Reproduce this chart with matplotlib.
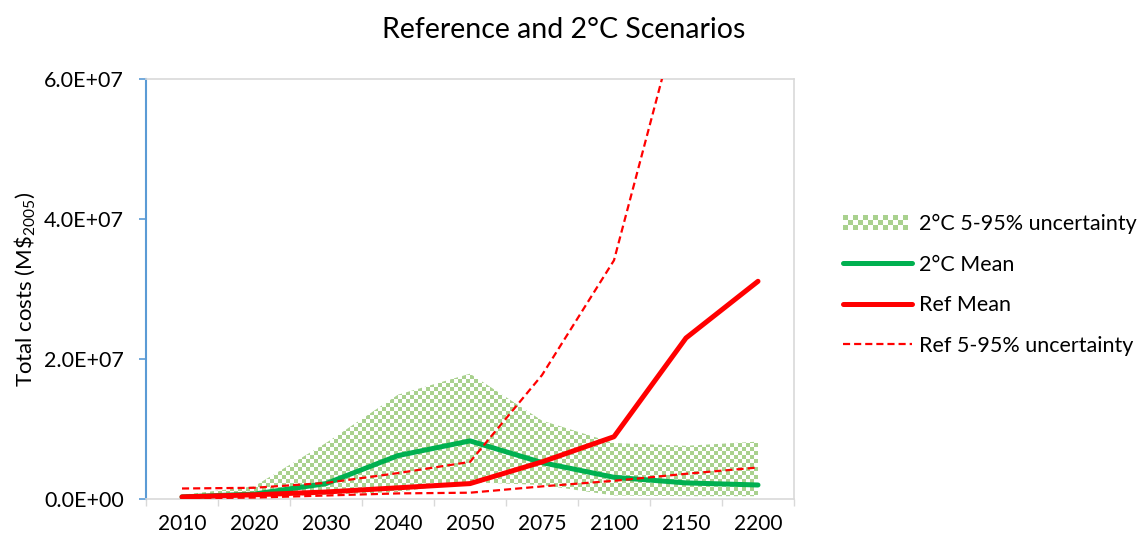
"""Total costs under the reference and 2°C scenarios, with 5-95% uncertainty ranges."""
import matplotlib

matplotlib.use("Agg")
import matplotlib.pyplot as plt
import numpy as np
from matplotlib.legend_handler import HandlerBase
from matplotlib.lines import Line2D
from matplotlib.patches import Patch, Rectangle

plt.rcParams["font.family"] = ["Lato", "DejaVu Sans"]
plt.rcParams["mathtext.default"] = "regular"

years = ["2010", "2020", "2030", "2040", "2050", "2075", "2100", "2150", "2200"]

ref_mean = [0.3e6, 0.6e6, 1.0e6, 1.6e6, 2.2e6, 5.3e6, 8.9e6, 2.3e7, 3.11e7]
ref_low = [0.1e6, 0.2e6, 0.5e6, 0.8e6, 0.9e6, 1.8e6, 2.6e6, 3.6e6, 4.5e6]
ref_high = [1.5e6, 1.6e6, 2.3e6, 3.7e6, 5.3e6, 1.77e7, 3.41e7, 7.3e7, 1.3e8]

two_mean = [0.3e6, 0.7e6, 2.2e6, 6.2e6, 8.3e6, 5.2e6, 3.1e6, 2.3e6, 2.0e6]
two_low = [0.1e6, 0.3e6, 0.6e6, 1.0e6, 2.4e6, 2.0e6, 0.5e6, 0.4e6, 0.4e6]
two_high = [0.6e6, 1.8e6, 8.0e6, 1.49e7, 1.79e7, 1.12e7, 8.0e6, 7.6e6, 8.2e6]

GREEN = "#00B050"
RED = "#FF0000"
CHECK = "#A9D18E"
GRID_GREY = "#D9D9D9"
AXIS_BLUE = "#5B9BD5"


class CheckerHandler(HandlerBase):
    """Legend key drawn as a small green/white checkerboard."""

    def create_artists(self, legend, orig_handle, xdescent, ydescent, width, height, fontsize, trans):
        ny = 3
        cell = height / ny
        nx = int(width // cell)
        artists = []
        for i in range(nx):
            for j in range(ny):
                if (i + j) % 2 == 0:
                    artists.append(Rectangle((-xdescent + i * cell, -ydescent + j * cell), cell, cell,
                                             facecolor=CHECK, edgecolor="none", transform=trans))
        return artists


fig = plt.figure(figsize=(11.45, 5.38), dpi=100)
ax = fig.add_axes([146 / 1145, 1 - 499 / 538, 648 / 1145, 420 / 538])

x = np.arange(len(years))
ymax = 6e7

# uncertainty band for the 2°C case: checkerboard image clipped to the fill region
band = ax.fill_between(x, two_low, two_high, facecolor="none", edgecolor="none", zorder=1)
nx_cells, ny_cells = 162, 105
checker = (np.add.outer(np.arange(ny_cells), np.arange(nx_cells)) % 2).astype(float)
cmap = matplotlib.colors.ListedColormap(["white", CHECK])
im = ax.imshow(checker, cmap=cmap, extent=[-0.5, len(years) - 0.5, 0, ymax], aspect="auto",
               interpolation="nearest", origin="lower", zorder=1)
im.set_clip_path(band.get_paths()[0], ax.transData)

ax.plot(x, two_mean, color=GREEN, lw=3.6, solid_capstyle="round", solid_joinstyle="round", zorder=3)
ax.plot(x, ref_mean, color=RED, lw=3.6, solid_capstyle="round", solid_joinstyle="round", zorder=4)
ax.plot(x, ref_low, color=RED, lw=1.6, dashes=(3.2, 1.8), zorder=5)
ax.plot(x, ref_high, color=RED, lw=1.6, dashes=(3.2, 1.8), zorder=5)

ax.set_xlim(-0.5, len(years) - 0.5)
ax.set_ylim(0, ymax)

ax.set_xticks(x, years)
ax.set_xticks(np.arange(len(years) + 1) - 0.5, minor=True)
ax.tick_params(axis="x", which="major", length=0, pad=11, labelsize=15)
ax.tick_params(axis="x", which="minor", length=5, width=1, color=GRID_GREY, direction="out")

ax.set_yticks([0, 2e7, 4e7, 6e7], ["0.0E+00", "2.0E+07", "4.0E+07", "6.0E+07"])
ax.tick_params(axis="y", length=5, width=1.2, color=AXIS_BLUE, pad=11, labelsize=15.5)

for side in ("top", "right", "bottom"):
    ax.spines[side].set_color(GRID_GREY)
    ax.spines[side].set_linewidth(1.2)
ax.spines["left"].set_color(AXIS_BLUE)
ax.spines["left"].set_linewidth(1.5)

ax.set_ylabel("Total costs (M\\$$_{2005}$)", fontsize=16, labelpad=5)

fig.text(564 / 1145, 1 - 30 / 538, "Reference and 2°C Scenarios", ha="center", va="center", fontsize=20.5)

handles = [
    Patch(label="2°C 5-95% uncertainty"),
    Line2D([], [], color=GREEN, lw=3.6, solid_capstyle="round", label="2°C Mean"),
    Line2D([], [], color=RED, lw=3.6, solid_capstyle="round", label="Ref Mean"),
    Line2D([], [], color=RED, lw=1.6, dashes=(3.2, 1.8), label="Ref 5-95% uncertainty"),
]
fig.legend(handles=handles, handler_map={Patch: CheckerHandler()}, loc="center left",
           bbox_to_anchor=(843 / 1145, 1 - 285 / 538), frameon=False, fontsize=15.5,
           handlelength=3.2, handletextpad=0.35, labelspacing=0.95, borderpad=0, borderaxespad=0)

fig.savefig("out.png", dpi=100)
